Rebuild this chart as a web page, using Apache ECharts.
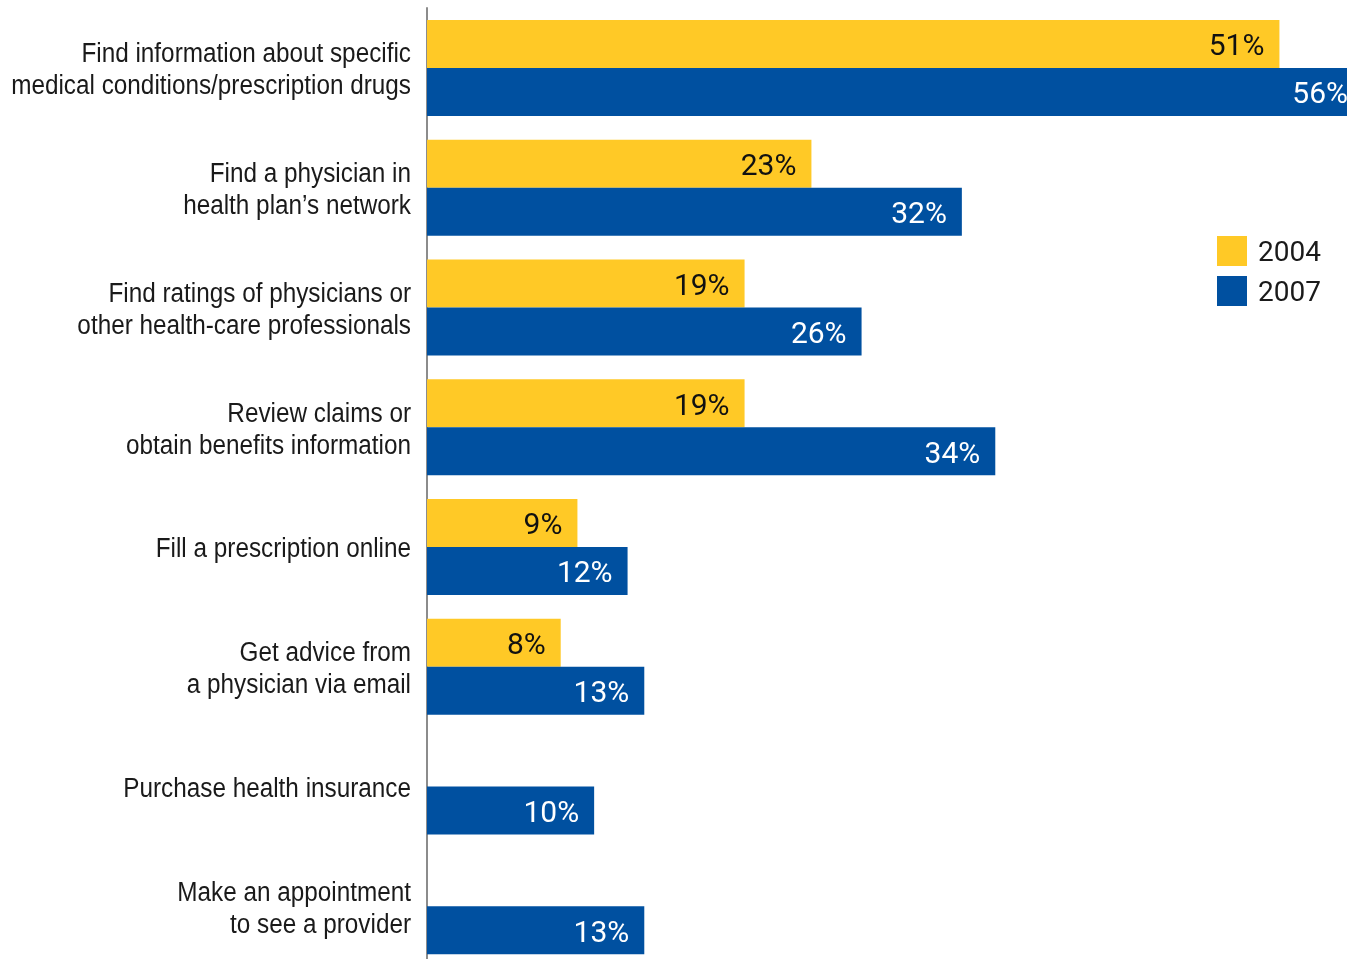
<!DOCTYPE html>
<html>
<head>
<meta charset="utf-8">
<style>
  html, body { margin: 0; padding: 0; background: #ffffff; }
  #chart { width: 1347px; height: 959px; }
</style>
<script src="https://cdn.jsdelivr.net/npm/echarts@6/dist/echarts.min.js"></script>
</head>
<body>
<div id="chart"></div>
<script>
// Online health activities, share of respondents
const categories = [
  'Find information about specific\nmedical conditions/prescription drugs',
  'Find a physician in\nhealth plan\u2019s network',
  'Find ratings of physicians or\nother health-care professionals',
  'Review claims or\nobtain benefits information',
  'Fill a prescription online',
  'Get advice from\na physician via email',
  'Purchase health insurance',
  'Make an appointment\nto see a provider'
];
const years = ['2004', '2007'];
const values2004 = [51, 23, 19, 19, 9, 8, null, null];
const values2007 = [56, 32, 26, 34, 12, 13, 10, 13];

const YELLOW = '#FFC926';
const BLUE = '#0050A0';
const TEXT = '#1a1a1a';
const catFont = '27px "Liberation Sans", Arial, sans-serif';
const numFont = 'Roboto, "Liberation Sans", sans-serif';

const chart = echarts.init(document.getElementById('chart'), null, { renderer: 'canvas' });

function valueLabel(color) {
  return {
    show: true,
    position: 'insideRight',
    distance: 15,
    color: color,
    fontFamily: numFont,
    fontSize: 30,
    offset: [0, 4],
    formatter: p => (p.value == null ? '' : p.value + '%')
  };
}

// Category captions, set in a narrowed sans to the left of the axis line
function renderCaption(params, api) {
  const pt = api.coord([0, api.value(1)]);
  return {
    type: 'text',
    x: pt[0] - 16,
    y: pt[1] + 3,
    scaleX: 0.9,
    silent: true,
    style: {
      text: categories[params.dataIndex],
      font: catFont,
      fill: TEXT,
      align: 'right',
      verticalAlign: 'middle',
      lineHeight: 32
    }
  };
}

chart.setOption({
  animation: false,
  backgroundColor: '#ffffff',
  grid: {
    left: 427, right: -16, top: 8, bottom: -7,
    containLabel: false,
    outerBoundsMode: 'none'
  },
  legend: {
    data: years,
    orient: 'vertical',
    left: 1217,
    top: 236,
    padding: 0,
    itemWidth: 30,
    itemHeight: 30,
    itemGap: 8,
    icon: 'rect',
    formatter: '{yr|{name}}',
    textStyle: {
      fontFamily: numFont,
      fontSize: 28,
      color: TEXT,
      rich: {
        yr: { fontFamily: numFont, fontSize: 28, color: TEXT, padding: [6, 0, 0, 6] }
      }
    }
  },
  xAxis: {
    type: 'value',
    min: 0,
    max: 56,
    show: false
  },
  yAxis: {
    type: 'category',
    data: categories,
    inverse: true,
    axisLine: { show: true, lineStyle: { color: '#8c8c8c', width: 2 } },
    axisTick: { show: false },
    splitLine: { show: false },
    axisLabel: { show: false }
  },
  series: [
    {
      name: years[0],
      type: 'bar',
      data: values2004,
      barWidth: 48,
      barGap: '0%',
      itemStyle: { color: YELLOW },
      label: valueLabel('#111111'),
      z: 2
    },
    {
      name: years[1],
      type: 'bar',
      data: values2007,
      barWidth: 48,
      barGap: '0%',
      itemStyle: { color: BLUE },
      label: valueLabel('#ffffff'),
      z: 2
    },
    {
      name: 'captions',
      type: 'custom',
      clip: false,
      silent: true,
      renderItem: renderCaption,
      encode: { x: 0, y: 1 },
      data: categories.map((c, i) => [0, i]),
      z: 3
    }
  ]
});
</script>
</body>
</html>
